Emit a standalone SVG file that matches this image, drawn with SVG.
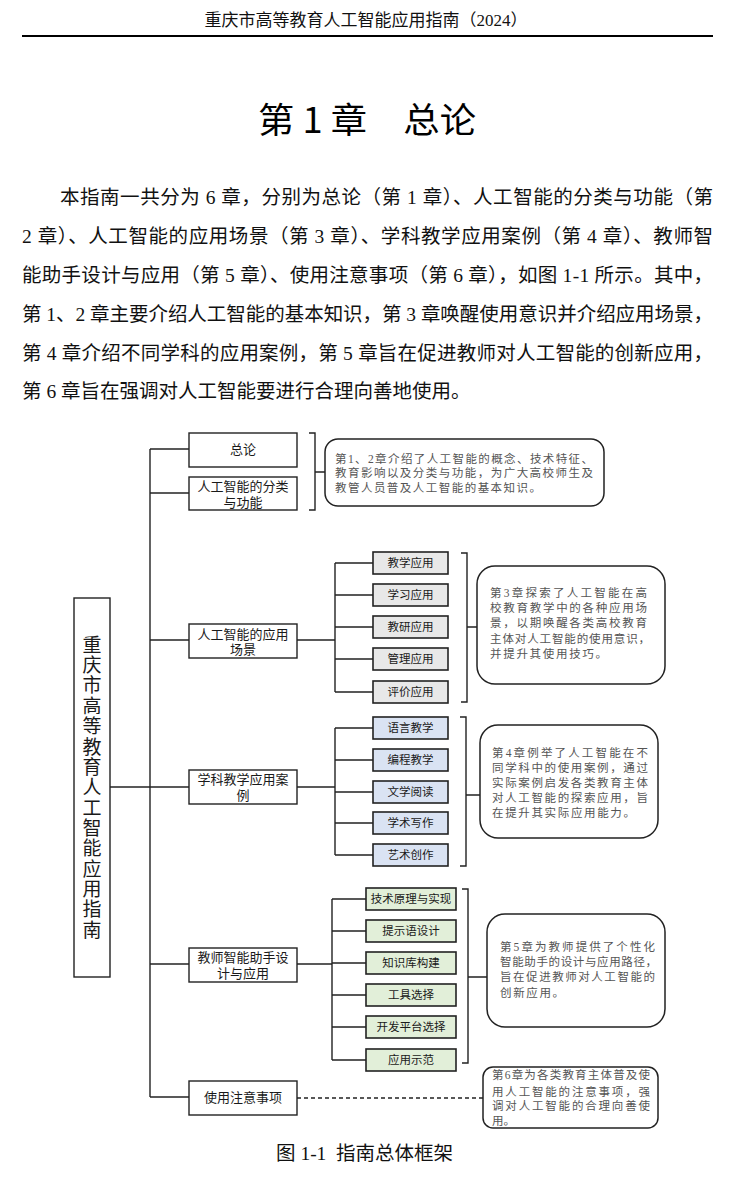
<svg xmlns="http://www.w3.org/2000/svg" width="747" height="1183" viewBox="0 0 747 1183">
<style>
.ser{font-family:'Liberation Serif','Noto Sans CJK SC',serif;fill:#111;}
.hd{font-size:16.5px;}
.para{font-size:19.5px;}
.ttl{font-family:'Noto Sans CJK SC','Noto Sans CJK JP',sans-serif;font-size:35px;fill:#000;}
.sans{font-family:'Noto Sans CJK SC','Noto Sans CJK JP',sans-serif;fill:#1a1a1a;}
.l1t{font-size:13px;text-anchor:middle;}
.l2t{font-size:11.5px;text-anchor:middle;}
.mt{font-size:19px;writing-mode:vertical-rl;text-orientation:upright;letter-spacing:1.36px;}
.cl{font-family:'Liberation Serif','Noto Sans CJK SC',serif;font-size:11.5px;fill:#555;}
.box{fill:#fff;stroke:#222;stroke-width:1.4;}
.gray{fill:#e8e8e8;stroke:#222;stroke-width:1.6;}
.blue{fill:#dae3f3;stroke:#222;stroke-width:1.6;}
.green{fill:#e2efd9;stroke:#222;stroke-width:1.6;}
.call{fill:#fff;stroke:#222;stroke-width:1.5;}
.ln{fill:none;stroke:#222;stroke-width:1.4;}
.dash{fill:none;stroke:#222;stroke-width:1.4;stroke-dasharray:4 3;}
</style>

<!-- header -->
<text class="ser hd" x="366" y="26" text-anchor="middle" textLength="323" lengthAdjust="spacingAndGlyphs">重庆市高等教育人工智能应用指南（2024）</text>
<line x1="22" y1="36" x2="713" y2="36" stroke="#000" stroke-width="2.2"/>

<!-- title -->
<text class="ttl" x="367" y="133" text-anchor="middle" textLength="218" lengthAdjust="spacingAndGlyphs">第 1 章　总论</text>

<!-- paragraph -->
<text class="ser para" x="60" y="204" textLength="653" lengthAdjust="spacing">本指南一共分为 6 章，分别为总论（第 1 章）、人工智能的分类与功能（第</text>
<text class="ser para" x="22" y="243" textLength="691" lengthAdjust="spacing">2 章）、人工智能的应用场景（第 3 章）、学科教学应用案例（第 4 章）、教师智</text>
<text class="ser para" x="22" y="282" textLength="691" lengthAdjust="spacing">能助手设计与应用（第 5 章）、使用注意事项（第 6 章），如图 1-1 所示。其中，</text>
<text class="ser para" x="22" y="321" textLength="691" lengthAdjust="spacing">第 1、2 章主要介绍人工智能的基本知识，第 3 章唤醒使用意识并介绍应用场景，</text>
<text class="ser para" x="22" y="360" textLength="691" lengthAdjust="spacing">第 4 章介绍不同学科的应用案例，第 5 章旨在促进教师对人工智能的创新应用，</text>
<text class="ser para" x="22" y="398">第 6 章旨在强调对人工智能要进行合理向善地使用。</text>

<!-- connectors -->
<g id="connectors">
  <path class="ln" d="M110,787 H189"/>
  <path class="ln" d="M150,449 V1097"/>
  <path class="ln" d="M150,449 H189"/>
  <path class="ln" d="M150,493 H189"/>
  <path class="ln" d="M150,640 H189"/>
  <path class="ln" d="M150,964 H189"/>
  <path class="ln" d="M150,1097 H189"/>
  <!-- group 2 -->
  <path class="ln" d="M297,640 H335"/>
  <path class="ln" d="M335,563 V692"/>
  <path class="ln" d="M335,563 H373 M335,595 H373 M335,627 H373 M335,659 H373 M335,692 H373"/>
  <!-- group 3 -->
  <path class="ln" d="M297,787 H335"/>
  <path class="ln" d="M335,728 V855"/>
  <path class="ln" d="M335,728 H373 M335,760 H373 M335,792 H373 M335,823 H373 M335,855 H373"/>
  <!-- group 4 -->
  <path class="ln" d="M297,964 H332"/>
  <path class="ln" d="M332,899 V1060"/>
  <path class="ln" d="M332,899 H366 M332,931 H366 M332,963 H366 M332,995 H366 M332,1027 H366 M332,1060 H366"/>
  <!-- brackets -->
  <path class="ln" d="M309,433 H315 V510 H309 M315,472 H325"/>
  <path class="ln" d="M461,553 H467 V702 H461 M467,627 H477"/>
  <path class="ln" d="M460,717 H466 V866 H460 M466,795 H480"/>
  <path class="ln" d="M462,889 H468 V1063 H462 M468,977 H487"/>
  <!-- dashed -->
  <path class="dash" d="M297,1098 H483"/>
</g>

<!-- main node -->
<g id="n-main">
  <rect class="box" x="74" y="598" width="36" height="379"/>
  <text class="sans mt" x="92" y="635">重庆市高等教育人工智能应用指南</text>
</g>

<!-- level 1 -->
<g id="n-zonglun"><rect class="box" x="189" y="433" width="108" height="34"/><text class="sans l1t" x="243" y="454">总论</text></g>
<g id="n-fenlei"><rect class="box" x="189" y="477" width="108" height="33"/><text class="sans l1t" x="243" y="491">人工智能的分类<tspan x="243" dy="16">与功能</tspan></text></g>
<g id="n-changjing"><rect class="box" x="189" y="624" width="108" height="34"/><text class="sans l1t" x="243" y="639">人工智能的应用<tspan x="243" dy="15">场景</tspan></text></g>
<g id="n-xueke"><rect class="box" x="189" y="770" width="108" height="34"/><text class="sans l1t" x="243" y="784">学科教学应用案<tspan x="243" dy="16">例</tspan></text></g>
<g id="n-zhushou"><rect class="box" x="189" y="948" width="108" height="34"/><text class="sans l1t" x="243" y="962">教师智能助手设<tspan x="243" dy="16">计与应用</tspan></text></g>
<g id="n-zhuyi"><rect class="box" x="189" y="1081" width="108" height="34"/><text class="sans l1t" x="243" y="1102">使用注意事项</text></g>

<!-- group 2 leaves -->
<g id="n-jiaoxue"><rect class="gray" x="373" y="552" width="75" height="22"/><text class="sans l2t" x="410.5" y="567">教学应用</text></g>
<g id="n-xuexi"><rect class="gray" x="373" y="584" width="75" height="22"/><text class="sans l2t" x="410.5" y="599">学习应用</text></g>
<g id="n-jiaoyan"><rect class="gray" x="373" y="616" width="75" height="22"/><text class="sans l2t" x="410.5" y="631">教研应用</text></g>
<g id="n-guanli"><rect class="gray" x="373" y="648" width="75" height="22"/><text class="sans l2t" x="410.5" y="663">管理应用</text></g>
<g id="n-pingjia"><rect class="gray" x="373" y="681" width="75" height="22"/><text class="sans l2t" x="410.5" y="696">评价应用</text></g>

<!-- group 3 leaves -->
<g id="n-yuyan"><rect class="blue" x="373" y="717" width="75" height="22"/><text class="sans l2t" x="410.5" y="732">语言教学</text></g>
<g id="n-biancheng"><rect class="blue" x="373" y="749" width="75" height="22"/><text class="sans l2t" x="410.5" y="764">编程教学</text></g>
<g id="n-wenxue"><rect class="blue" x="373" y="781" width="75" height="22"/><text class="sans l2t" x="410.5" y="796">文学阅读</text></g>
<g id="n-xueshu"><rect class="blue" x="373" y="812" width="75" height="22"/><text class="sans l2t" x="410.5" y="827">学术写作</text></g>
<g id="n-yishu"><rect class="blue" x="373" y="844" width="75" height="22"/><text class="sans l2t" x="410.5" y="859">艺术创作</text></g>

<!-- group 4 leaves -->
<g id="n-jishu"><rect class="green" x="366" y="888" width="90" height="22"/><text class="sans l2t" x="411" y="903">技术原理与实现</text></g>
<g id="n-tishi"><rect class="green" x="366" y="920" width="90" height="22"/><text class="sans l2t" x="411" y="935">提示语设计</text></g>
<g id="n-zhishi"><rect class="green" x="366" y="952" width="90" height="22"/><text class="sans l2t" x="411" y="967">知识库构建</text></g>
<g id="n-gongju"><rect class="green" x="366" y="984" width="90" height="22"/><text class="sans l2t" x="411" y="999">工具选择</text></g>
<g id="n-kaifa"><rect class="green" x="366" y="1016" width="90" height="22"/><text class="sans l2t" x="411" y="1031">开发平台选择</text></g>
<g id="n-shifan"><rect class="green" x="366" y="1049" width="90" height="22"/><text class="sans l2t" x="411" y="1064">应用示范</text></g>

<!-- callouts -->
<g id="c1">
  <rect class="call" x="325" y="439" width="279" height="67" rx="13"/>
  <text class="cl" x="335" y="463" textLength="258" lengthAdjust="spacing">第1、2章介绍了人工智能的概念、技术特征、</text>
  <text class="cl" x="335" y="477" textLength="258" lengthAdjust="spacing">教育影响以及分类与功能，为广大高校师生及</text>
  <text class="cl" x="335" y="492" textLength="206" lengthAdjust="spacing">教管人员普及人工智能的基本知识。</text>
</g>
<g id="c2">
  <rect class="call" x="477" y="566" width="188" height="118" rx="18"/>
  <text class="cl" x="490" y="597" textLength="157" lengthAdjust="spacing">第3章探索了人工智能在高</text>
  <text class="cl" x="490" y="612" textLength="157" lengthAdjust="spacing">校教育教学中的各种应用场</text>
  <text class="cl" x="490" y="627" textLength="157" lengthAdjust="spacing">景，以期唤醒各类高校教育</text>
  <text class="cl" x="490" y="643" textLength="160" lengthAdjust="spacing">主体对人工智能的使用意识，</text>
  <text class="cl" x="490" y="658" textLength="117" lengthAdjust="spacing">并提升其使用技巧。</text>
</g>
<g id="c3">
  <rect class="call" x="480" y="725" width="178" height="113" rx="18"/>
  <text class="cl" x="492" y="757" textLength="156" lengthAdjust="spacing">第4章例举了人工智能在不</text>
  <text class="cl" x="492" y="772" textLength="156" lengthAdjust="spacing">同学科中的使用案例，通过</text>
  <text class="cl" x="492" y="787" textLength="156" lengthAdjust="spacing">实际案例启发各类教育主体</text>
  <text class="cl" x="492" y="802" textLength="156" lengthAdjust="spacing">对人工智能的探索应用，旨</text>
  <text class="cl" x="492" y="817" textLength="143" lengthAdjust="spacing">在提升其实际应用能力。</text>
</g>
<g id="c4">
  <rect class="call" x="487" y="914" width="178" height="113" rx="18"/>
  <text class="cl" x="500" y="951" textLength="155" lengthAdjust="spacing">第5章为教师提供了个性化</text>
  <text class="cl" x="500" y="966" textLength="157" lengthAdjust="spacing">智能助手的设计与应用路径，</text>
  <text class="cl" x="500" y="981" textLength="155" lengthAdjust="spacing">旨在促进教师对人工智能的</text>
  <text class="cl" x="500" y="997" textLength="64" lengthAdjust="spacing">创新应用。</text>
</g>
<g id="c5">
  <rect class="call" x="483" y="1067" width="175" height="61" rx="10"/>
  <text class="cl" x="492" y="1079" textLength="158" lengthAdjust="spacing">第6章为各类教育主体普及使</text>
  <text class="cl" x="492" y="1096" textLength="158" lengthAdjust="spacing">用人工智能的注意事项，强</text>
  <text class="cl" x="492" y="1110" textLength="158" lengthAdjust="spacing">调对人工智能的合理向善使</text>
  <text class="cl" x="492" y="1125">用。</text>
</g>

<!-- caption -->
<text class="ser para" x="276" y="1160" font-size="19">图&#160;1-1&#160;&#160;指南总体框架</text>
</svg>
